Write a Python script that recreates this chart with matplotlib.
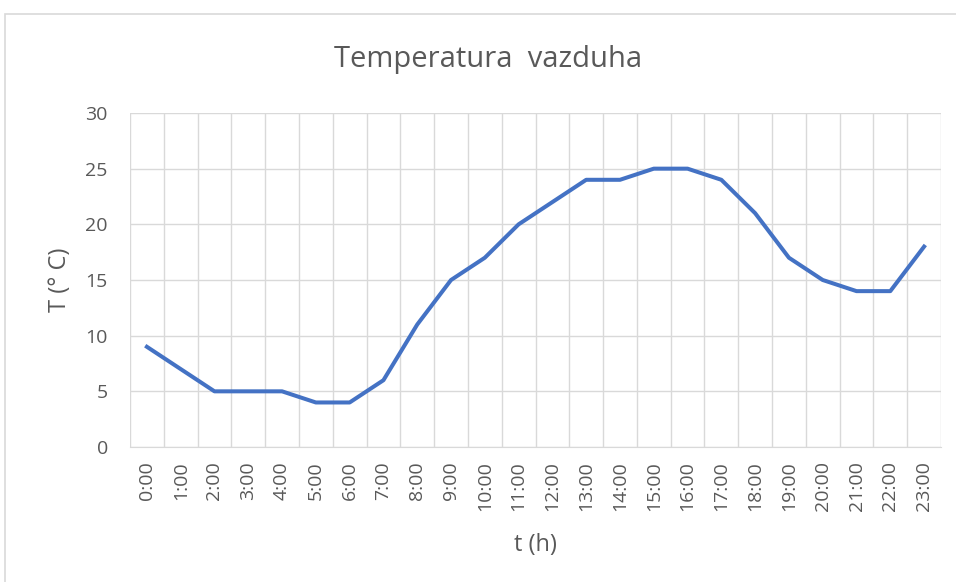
import matplotlib
matplotlib.use("Agg")
import matplotlib.pyplot as plt
from matplotlib.patches import Rectangle
import numpy as np

hours = ["0:00", "1:00", "2:00", "3:00", "4:00", "5:00", "6:00", "7:00", "8:00", "9:00",
         "10:00", "11:00", "12:00", "13:00", "14:00", "15:00", "16:00", "17:00", "18:00",
         "19:00", "20:00", "21:00", "22:00", "23:00"]
temps = [9, 7, 5, 5, 5, 4, 4, 6, 11, 15, 17, 20, 22, 24, 24, 25, 25, 24, 21, 17, 15, 14, 14, 18]
y_ticks = [0, 5, 10, 15, 20, 25, 30]

plt.rcParams['font.family'] = ['Open Sans', 'DejaVu Sans']
txt = '#595959'

fig = plt.figure(figsize=(9.56, 5.82), dpi=100)
fig.patches.append(Rectangle((5 / 956, -0.1), 1.2, 1 - 14 / 582 + 0.1, transform=fig.transFigure,
                             fill=False, edgecolor='#D9D9D9', linewidth=1.2))
ax = fig.add_axes([130 / 956, 1 - 447 / 582, (941 - 130) / 956, (447 - 113) / 582])

x = np.arange(len(hours))
ax.plot(x, temps, color='#4472C4', linewidth=2.9, solid_joinstyle='round', zorder=3)

ax.set_xlim(-0.5, len(hours) - 0.5)
ax.set_ylim(0, 30)
ax.set_yticks(y_ticks)
ax.set_xticks(x)
ax.set_xticklabels(hours, rotation=90)
ax.set_xticks(np.arange(-0.5, len(hours), 1), minor=True)
ax.grid(False)
ax.grid(True, which='minor', axis='x', color='#D9D9D9', linewidth=1)
ax.grid(True, which='major', axis='y', color='#D9D9D9', linewidth=1)
ax.tick_params(axis='both', which='both', length=0, colors=txt, labelsize=14)
ax.tick_params(axis='x', pad=10)
ax.tick_params(axis='y', pad=16)
for s in ['top', 'right', 'left']:
    ax.spines[s].set_visible(False)
ax.spines['bottom'].set_color('#D9D9D9')
ax.set_axisbelow(True)

fig.text(535 / 956, 1 - 545 / 582, 't (h)', ha='center', va='center', color=txt, fontsize=17)
fig.text(60 / 956, 1 - 280 / 582, 'T (° C)', ha='center', va='center', rotation=90,
         color=txt, fontsize=17)
fig.text(488 / 956, 1 - 60 / 582, 'Temperatura  vazduha', ha='center', va='center',
         color=txt, fontsize=21)

fig.savefig('out.png', dpi=100)
